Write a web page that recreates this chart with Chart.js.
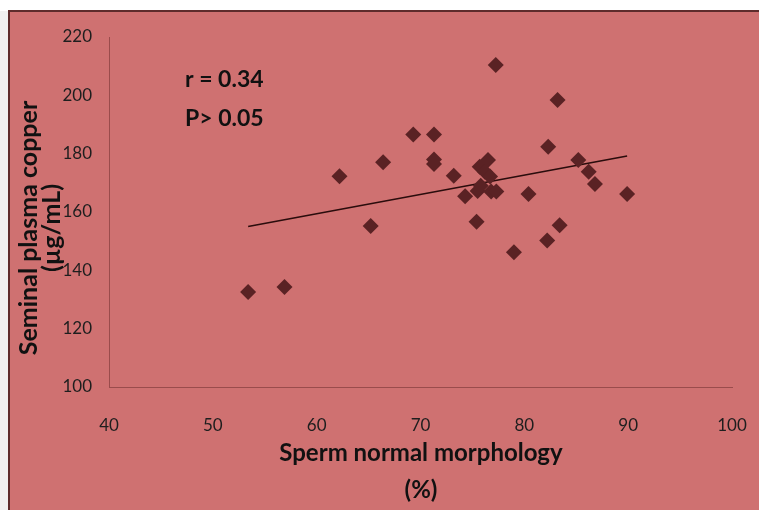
<!DOCTYPE html>
<html>
<head>
<meta charset="utf-8">
<script src="https://cdn.jsdelivr.net/npm/chart.js@4.4.0/dist/chart.umd.min.js"></script>
<style>
  html, body { margin: 0; padding: 0; background: #ffffff; }
  #wrap { width: 759px; height: 510px; position: relative; }
</style>
</head>
<body>
<div id="wrap"><canvas id="c" width="759" height="510"></canvas></div>
<script>
// Sperm normal morphology (%)
const morphology = [53.4, 56.9, 62.2, 65.2, 66.4, 69.3, 71.3, 71.3, 71.3, 73.2, 74.3, 75.4, 75.5, 75.7, 75.8, 76.2, 76.5, 76.7, 76.8, 77.3, 77.25, 79.0, 80.4, 82.2, 82.3, 83.2, 83.4, 85.2, 86.2, 86.8, 89.9];
// Seminal plasma copper (µg/mL)
const copper = [132.6, 134.3, 172.3, 155.2, 177.1, 186.6, 186.6, 178.0, 176.5, 172.4, 165.4, 156.7, 167.2, 175.5, 169.0, 173.8, 177.8, 172.2, 167.0, 167.0, 210.4, 146.2, 166.2, 150.2, 182.4, 198.4, 155.5, 177.8, 173.8, 169.6, 166.2];
// Trend line end points
const trendX = [53.4, 89.9];
const trendY = [155.0, 179.2];
// Axis ticks
const xTicks = [40, 50, 60, 70, 80, 90, 100];
const yTicks = [100, 120, 140, 160, 180, 200, 220];
// Texts
const statLines = ["r = 0.34", "P> 0.05"];
const xTitle = ["Sperm normal morphology", "(%)"];
const yTitle = ["Seminal plasma copper", "(µg/mL)"];

const scatterData = morphology.map((x, i) => ({ x: x, y: copper[i] }));
const trendData = trendX.map((x, i) => ({ x: x, y: trendY[i] }));

const PINK = '#CF7171';
const FONT = 'Lato, "Open Sans", sans-serif';

const bgPlugin = {
  id: 'bg',
  beforeDraw(chart) {
    const ctx = chart.ctx;
    ctx.save();
    ctx.fillStyle = '#ffffff';
    ctx.fillRect(0, 0, 759, 510);
    ctx.fillStyle = '#f1f1f1';
    ctx.fillRect(0, 11, 8, 499);
    ctx.fillStyle = PINK;
    ctx.fillRect(8, 11, 751, 499);
    ctx.fillStyle = '#5e2c2c';
    ctx.fillRect(8, 10, 751, 2);
    ctx.fillRect(8, 10, 2, 500);
    ctx.restore();
  },
  afterDraw(chart) {
    const ctx = chart.ctx;
    ctx.save();
    ctx.fillStyle = '#111111';
    ctx.textBaseline = 'alphabetic';
    ctx.textAlign = 'left';
    ctx.font = 'bold 23px ' + FONT;
    ctx.fillText(statLines[0], 185, 87);
    ctx.fillText(statLines[1], 185, 126);

    ctx.textAlign = 'center';
    ctx.font = 'bold 24px ' + FONT;
    ctx.fillText(xTitle[0], 421, 461);
    ctx.fillText(xTitle[1], 421, 498);

    ctx.translate(0, 228);
    ctx.rotate(-Math.PI / 2);
    ctx.font = 'bold 25px ' + FONT;
    ctx.fillText(yTitle[0], 0, 37);
    ctx.fillText(yTitle[1], 0, 60);
    ctx.restore();
  }
};

new Chart(document.getElementById('c'), {
  type: 'scatter',
  data: {
    datasets: [
      {
        data: scatterData,
        pointStyle: 'rectRot',
        pointRadius: 8,
        pointHoverRadius: 8,
        backgroundColor: '#5a2224',
        borderColor: '#5a2224',
        borderWidth: 0
      },
      {
        type: 'line',
        data: trendData,
        borderColor: '#2a0c0c',
        borderWidth: 1.6,
        pointRadius: 0,
        fill: false
      }
    ]
  },
  options: {
    responsive: false,
    animation: false,
    devicePixelRatio: 1,
    layout: { padding: { left: 0, top: 37, right: 27, bottom: 0 } },
    plugins: { legend: { display: false }, tooltip: { enabled: false } },
    scales: {
      x: {
        type: 'linear',
        min: 40, max: 100,
        afterBuildTicks: s => { s.ticks = xTicks.map(v => ({ value: v })); },
        afterFit: s => { s.height = 123; s.paddingLeft = 0; s.paddingRight = 0; },
        grid: { color: 'rgba(0,0,0,0)', drawTicks: false },
        border: { display: true, color: '#9a4c4c', width: 1 },
        ticks: { padding: 28, color: '#1e1e1e', font: { family: FONT, size: 17 } }
      },
      y: {
        type: 'linear',
        min: 100, max: 220,
        afterBuildTicks: s => { s.ticks = yTicks.map(v => ({ value: v })); },
        afterFit: s => { s.width = 109; s.paddingTop = 0; s.paddingBottom = 0; },
        grid: { color: 'rgba(0,0,0,0)', drawTicks: false },
        border: { display: true, color: '#9a4c4c', width: 1 },
        ticks: { padding: 17, color: '#1e1e1e', font: { family: FONT, size: 17 } }
      }
    }
  },
  plugins: [bgPlugin]
});
</script>
</body>
</html>
